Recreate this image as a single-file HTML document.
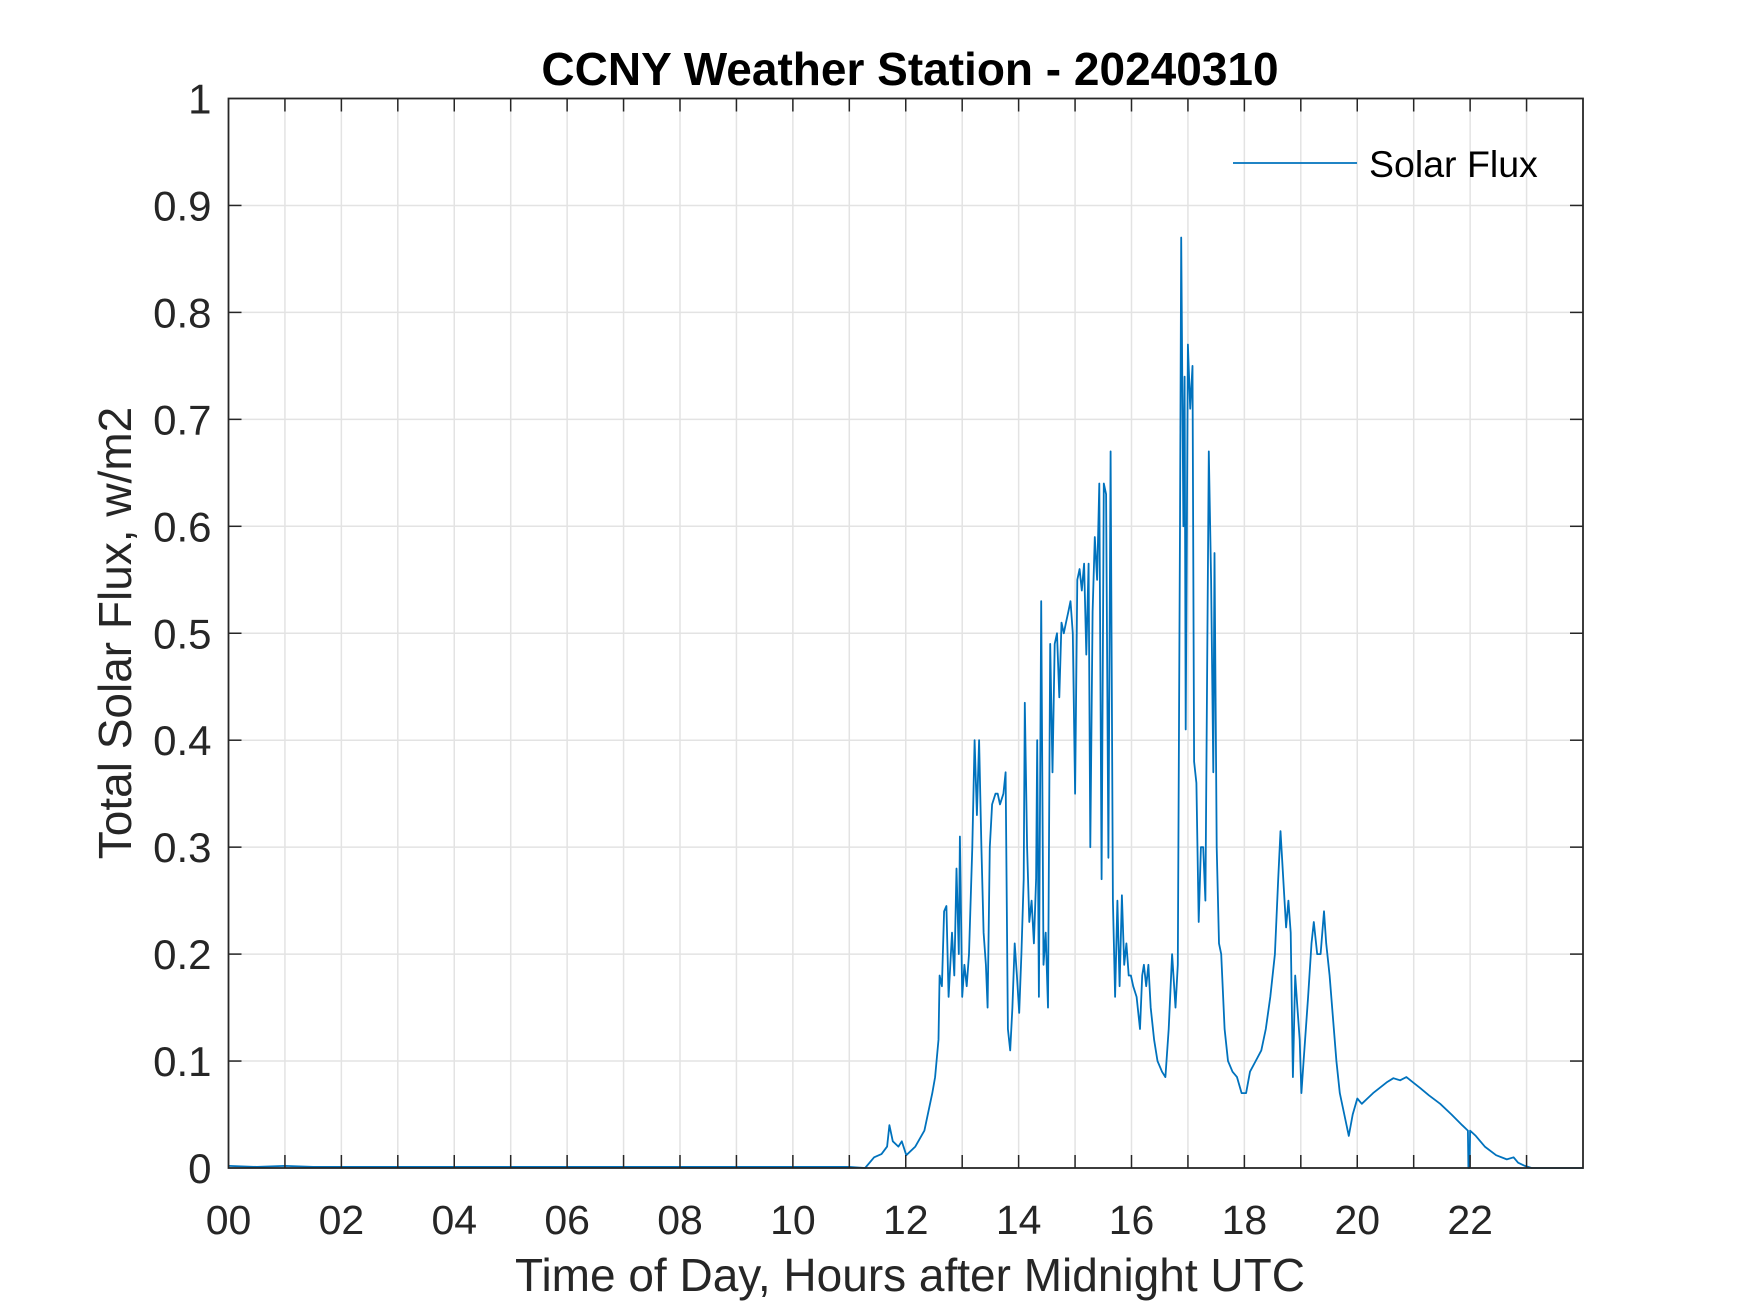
<!DOCTYPE html>
<html><head><meta charset="utf-8">
<style>
html,body{margin:0;padding:0;background:#fff;}
svg{display:block;font-family:"Liberation Sans",Arial,sans-serif;}
</style></head>
<body>
<svg id="chart" width="1750" height="1313" viewBox="0 0 1750 1313" xmlns="http://www.w3.org/2000/svg">
<rect width="1750" height="1313" fill="#fff"/>
<g id="grid"></g>
<g id="series"></g>
<g id="axes"></g>
<text x="910" y="85" text-anchor="middle" font-size="46" font-weight="bold" fill="#000">CCNY Weather Station - 20240310</text>
<text x="910" y="1291" text-anchor="middle" font-size="46" fill="#262626">Time of Day, Hours after Midnight UTC</text>
<text transform="translate(131,633) rotate(-90)" text-anchor="middle" font-size="46" fill="#262626">Total Solar Flux, w/m2</text>
<g>
<line x1="1233" y1="163" x2="1357" y2="163" stroke="#0072BD" stroke-width="1.8"/>
<text x="1369" y="177" font-size="37.5" fill="#000">Solar Flux</text>
</g>
</svg>
<script>
const hours = [0,0.5,1,1.5,2,3,4,5,6,7,8,9,10,11,11.28,11.44,11.57,11.67,11.71,11.77,11.87,11.93,12.01,12.17,12.33,12.47,12.52,12.58,12.60,12.64,12.68,12.72,12.76,12.82,12.86,12.90,12.94,12.96,13.00,13.04,13.08,13.12,13.18,13.22,13.26,13.30,13.34,13.38,13.42,13.45,13.49,13.53,13.59,13.63,13.67,13.73,13.77,13.81,13.85,13.89,13.93,13.97,14.01,14.05,14.09,14.11,14.15,14.19,14.23,14.27,14.31,14.33,14.36,14.40,14.44,14.48,14.52,14.56,14.60,14.64,14.68,14.72,14.76,14.80,14.84,14.88,14.92,14.96,15.00,15.04,15.08,15.12,15.16,15.20,15.24,15.27,15.31,15.35,15.39,15.43,15.47,15.51,15.55,15.59,15.63,15.67,15.71,15.75,15.79,15.83,15.87,15.91,15.95,15.99,16.03,16.09,16.15,16.19,16.22,16.26,16.30,16.34,16.40,16.46,16.54,16.60,16.66,16.72,16.78,16.82,16.86,16.88,16.92,16.94,16.96,17.00,17.04,17.08,17.11,17.15,17.19,17.23,17.27,17.31,17.37,17.41,17.45,17.47,17.51,17.55,17.59,17.65,17.71,17.79,17.87,17.95,18.03,18.10,18.20,18.30,18.38,18.46,18.54,18.60,18.64,18.70,18.74,18.78,18.82,18.86,18.90,18.94,18.98,19.01,19.05,19.13,19.19,19.23,19.29,19.35,19.41,19.45,19.51,19.57,19.63,19.69,19.77,19.85,19.92,20.00,20.08,20.18,20.28,20.40,20.52,20.64,20.76,20.87,20.99,21.11,21.27,21.47,21.67,21.86,21.96,21.97,21.99,22.00,22.10,22.26,22.46,22.65,22.77,22.85,22.97,23.09,23.5,24];
const flux = [0.002,0.001,0.002,0.001,0.001,0.001,0.001,0.001,0.001,0.001,0.001,0.001,0.001,0.001,0,0.01,0.013,0.02,0.04,0.025,0.02,0.025,0.012,0.02,0.035,0.07,0.085,0.12,0.18,0.17,0.24,0.245,0.16,0.22,0.18,0.28,0.2,0.31,0.16,0.19,0.17,0.2,0.3,0.4,0.33,0.4,0.3,0.22,0.19,0.15,0.3,0.34,0.35,0.35,0.34,0.35,0.37,0.13,0.11,0.15,0.21,0.18,0.145,0.2,0.27,0.435,0.3,0.23,0.25,0.21,0.27,0.4,0.16,0.53,0.19,0.22,0.15,0.49,0.37,0.49,0.5,0.44,0.51,0.5,0.51,0.52,0.53,0.5,0.35,0.55,0.56,0.54,0.565,0.48,0.565,0.3,0.52,0.59,0.55,0.64,0.27,0.64,0.63,0.29,0.67,0.25,0.16,0.25,0.17,0.255,0.19,0.21,0.18,0.18,0.17,0.16,0.13,0.18,0.19,0.17,0.19,0.15,0.12,0.1,0.09,0.085,0.13,0.2,0.15,0.19,0.6,0.87,0.6,0.74,0.41,0.77,0.71,0.75,0.38,0.36,0.23,0.3,0.3,0.25,0.67,0.55,0.37,0.575,0.3,0.21,0.2,0.13,0.1,0.09,0.085,0.07,0.07,0.09,0.1,0.11,0.13,0.16,0.2,0.27,0.315,0.26,0.225,0.25,0.22,0.085,0.18,0.15,0.12,0.07,0.1,0.16,0.21,0.23,0.2,0.2,0.24,0.21,0.18,0.14,0.1,0.07,0.05,0.03,0.05,0.065,0.06,0.065,0.07,0.075,0.08,0.084,0.082,0.085,0.08,0.075,0.068,0.06,0.05,0.04,0.035,0,0,0.035,0.03,0.02,0.012,0.008,0.01,0.005,0.002,0,0,0];
const xTickLabels = ["00","02","04","06","08","10","12","14","16","18","20","22"];
const yTickValues = [0,0.1,0.2,0.3,0.4,0.5,0.6,0.7,0.8,0.9,1];
const yTickLabels = ["0","0.1","0.2","0.3","0.4","0.5","0.6","0.7","0.8","0.9","1"];

const L=228.5,R=1583,T=98.5,B=1168;
const xScale=h=>L+(R-L)*h/24;
const yScale=v=>B-(B-T)*v;
const NS="http://www.w3.org/2000/svg";
function mk(tag,attrs,parent){const e=document.createElementNS(NS,tag);for(const k in attrs)e.setAttribute(k,attrs[k]);parent.appendChild(e);return e;}
const grid=document.getElementById('grid'),axes=document.getElementById('axes'),series=document.getElementById('series');
for(let h=1;h<24;h++){
  const g=mk('line',{x1:xScale(h),x2:xScale(h),y1:T,y2:B,stroke:'#e3e3e3','stroke-width':1.5},grid);
  
  
  const t1=mk('line',{x1:xScale(h),x2:xScale(h),y1:T,y2:T+13,stroke:'#262626','stroke-width':1.5},axes);
  
  
  const t2=mk('line',{x1:xScale(h),x2:xScale(h),y1:B,y2:B-13,stroke:'#262626','stroke-width':1.5},axes);
  
  
}
yTickValues.forEach((v,i)=>{
  const y=yScale(v);
  if(v>0&&v<1){
    const g=mk('line',{x1:L,x2:R,y1:y,y2:y,stroke:'#e3e3e3','stroke-width':1.5},grid);
    
    
    const t1=mk('line',{x1:L,x2:L+13,y1:y,y2:y,stroke:'#262626','stroke-width':1.5},axes);
    
    
    const t2=mk('line',{x1:R,x2:R-13,y1:y,y2:y,stroke:'#262626','stroke-width':1.5},axes);
    
    
  }
  const tx=mk('text',{x:L-17,y:y+15,'text-anchor':'end','font-size':42,fill:'#262626'},axes);
  tx.textContent=yTickLabels[i];
  
  
});
xTickLabels.forEach((lab,i)=>{
  const tx=mk('text',{x:xScale(i*2),y:1234,'text-anchor':'middle','font-size':41,fill:'#262626'},axes);
  tx.textContent=lab;
  
  
});
const box=mk('rect',{x:L,y:T,width:R-L,height:B-T,fill:'none',stroke:'#262626','stroke-width':1.8},axes);


const d=hours.map((h,i)=>(i?'L':'M')+xScale(h).toFixed(1)+','+yScale(flux[i]).toFixed(1)).join(' ');
const p=mk('path',{d:d,fill:'none',stroke:'#0072BD','stroke-width':1.8,'stroke-linejoin':'round'},series);


</script>
</body></html>
